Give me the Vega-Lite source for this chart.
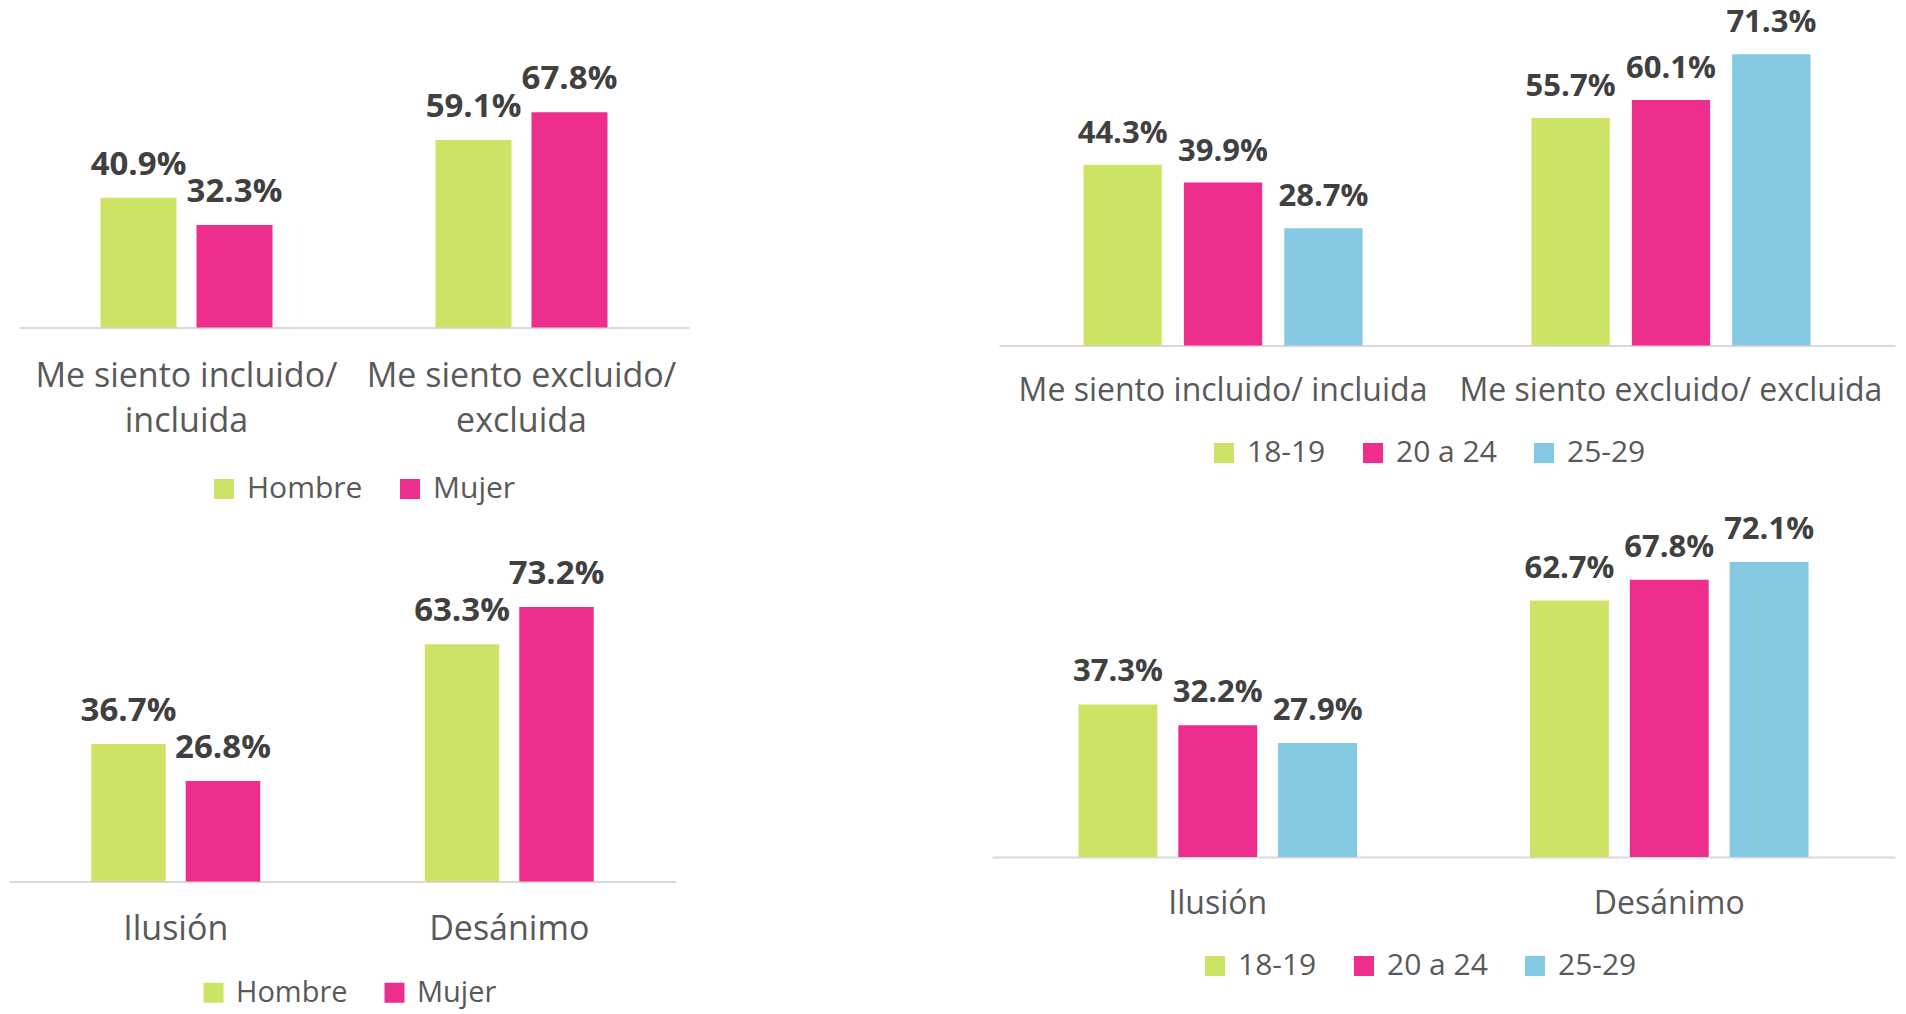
{
  "$schema": "https://vega.github.io/schema/vega-lite/v6.json",
  "padding": {"left": 9, "top": 5, "right": 5, "bottom": 8},
  "autosize": {"type": "pad"},
  "spacing": 1,
  "resolve": {"scale": {"color": "independent", "x": "independent", "y": "independent", "xOffset": "independent"}, "legend": {"color": "independent"}},
  "config": {
    "font": "Open Sans",
    "view": {"stroke": null},
    "axisX": {"title": null, "domainColor": "#d9d9d9", "domainWidth": 2, "ticks": false, "tickSize": 0, "labelColor": "#595959", "labelAngle": 0, "labelLimit": 1000, "labelOverlap": false, "grid": false},
    "legend": {"symbolType": "square", "symbolSize": 400, "symbolStrokeWidth": 0, "labelFontSize": 30, "labelColor": "#595959", "labelOffset": 8, "columnPadding": 32, "padding": 0, "direction": "horizontal", "orient": "none"},
    "bar": {"stroke": null}
  },
  "vconcat": [
    {
      "hconcat": [
        {
          "width": 680, "height": 322.5,
          "data": {"values": [
            {"categoria": "Me siento incluido/ incluida", "grupo": "Hombre", "valor": 0.409},
            {"categoria": "Me siento incluido/ incluida", "grupo": "Mujer", "valor": 0.323},
            {"categoria": "Me siento excluido/ excluida", "grupo": "Hombre", "valor": 0.591},
            {"categoria": "Me siento excluido/ excluida", "grupo": "Mujer", "valor": 0.678}
          ]},
          "encoding": {
            "x": {"field": "categoria", "type": "nominal", "sort": null,
                  "scale": {"range": [10, 680], "paddingInner": 0.4866, "paddingOuter": 0.2433},
                  "axis": {"labelFontSize": 34, "labelPadding": 31.5, "labelLineHeight": 45.7,
                           "labelExpr": "[slice(datum.label, 0, indexof(datum.label, '/ ') + 1), slice(datum.label, indexof(datum.label, '/ ') + 2)]"}},
            "xOffset": {"field": "grupo", "type": "nominal", "sort": null, "scale": {"paddingInner": 0.2083, "paddingOuter": 0}},
            "y": {"field": "valor", "type": "quantitative", "scale": {"domain": [0, 1.01607], "nice": false, "zero": true}, "axis": null}
          },
          "layer": [
            {"mark": {"type": "bar"},
             "encoding": {"color": {"field": "grupo", "type": "nominal", "sort": null,
               "scale": {"domain": ["Hombre", "Mujer"], "range": ["#CBE465", "#EE2E8C"]},
               "legend": {"title": null, "legendX": 200, "legendY": 469}}}},
            {"mark": {"type": "text", "align": "center", "baseline": "alphabetic", "dy": -23, "fontSize": 33, "fontWeight": "bold", "color": "#404040"},
             "encoding": {"text": {"field": "valor", "type": "quantitative", "format": ".1%"}}}
          ]
        },
        {
          "width": 896, "height": 340.6,
          "data": {"values": [
            {"categoria": "Me siento incluido/ incluida", "grupo": "18-19", "valor": 0.443},
            {"categoria": "Me siento incluido/ incluida", "grupo": "20 a 24", "valor": 0.399},
            {"categoria": "Me siento incluido/ incluida", "grupo": "25-29", "valor": 0.287},
            {"categoria": "Me siento excluido/ excluida", "grupo": "18-19", "valor": 0.557},
            {"categoria": "Me siento excluido/ excluida", "grupo": "20 a 24", "valor": 0.601},
            {"categoria": "Me siento excluido/ excluida", "grupo": "25-29", "valor": 0.713}
          ]},
          "encoding": {
            "x": {"field": "categoria", "type": "nominal", "sort": null,
                  "scale": {"paddingInner": 0.377, "paddingOuter": 0.1886},
                  "axis": {"labelFontSize": 32, "labelPadding": 29.4}},
            "xOffset": {"field": "grupo", "type": "nominal", "sort": null, "scale": {"paddingInner": 0.22, "paddingOuter": 0}},
            "y": {"field": "valor", "type": "quantitative", "scale": {"domain": [0, 0.83378], "nice": false, "zero": true}, "axis": null}
          },
          "layer": [
            {"mark": {"type": "bar"},
             "encoding": {"color": {"field": "grupo", "type": "nominal", "sort": null,
               "scale": {"domain": ["18-19", "20 a 24", "25-29"], "range": ["#CBE465", "#EE2E8C", "#84C9E1"]},
               "legend": {"title": null, "legendX": 210, "legendY": 433}}}},
            {"mark": {"type": "text", "align": "center", "baseline": "alphabetic", "dy": -22, "fontSize": 31, "fontWeight": "bold", "color": "#404040"},
             "encoding": {"text": {"field": "valor", "type": "quantitative", "format": ".1%"}}}
          ]
        }
      ],
      "spacing": 310,
      "bounds": "flush",
      "resolve": {"scale": {"color": "independent", "x": "independent", "y": "independent", "xOffset": "independent"}, "legend": {"color": "independent"}}
    },
    {
      "hconcat": [
        {
          "width": 667, "height": 376.5,
          "data": {"values": [
            {"categoria": "Ilusión", "grupo": "Hombre", "valor": 0.367},
            {"categoria": "Ilusión", "grupo": "Mujer", "valor": 0.268},
            {"categoria": "Desánimo", "grupo": "Hombre", "valor": 0.633},
            {"categoria": "Desánimo", "grupo": "Mujer", "valor": 0.732}
          ]},
          "encoding": {
            "x": {"field": "categoria", "type": "nominal", "sort": null,
                  "scale": {"paddingInner": 0.4933, "paddingOuter": 0.2466},
                  "axis": {"labelFontSize": 34, "labelPadding": 30.8}},
            "xOffset": {"field": "grupo", "type": "nominal", "sort": null, "scale": {"paddingInner": 0.2116, "paddingOuter": 0}},
            "y": {"field": "valor", "type": "quantitative", "scale": {"domain": [0, 1.004], "nice": false, "zero": true}, "axis": null}
          },
          "layer": [
            {"mark": {"type": "bar"},
             "encoding": {"color": {"field": "grupo", "type": "nominal", "sort": null,
               "scale": {"domain": ["Hombre", "Mujer"], "range": ["#CBE465", "#EE2E8C"]},
               "legend": {"title": null, "legendX": 190, "legendY": 473, "labelFontSize": 29}}}},
            {"mark": {"type": "text", "align": "center", "baseline": "alphabetic", "dy": -23, "fontSize": 33, "fontWeight": "bold", "color": "#404040"},
             "encoding": {"text": {"field": "valor", "type": "quantitative", "format": ".1%"}}}
          ]
        },
        {
          "width": 903, "height": 352,
          "data": {"values": [
            {"categoria": "Ilusión", "grupo": "18-19", "valor": 0.373},
            {"categoria": "Ilusión", "grupo": "20 a 24", "valor": 0.322},
            {"categoria": "Ilusión", "grupo": "25-29", "valor": 0.279},
            {"categoria": "Desánimo", "grupo": "18-19", "valor": 0.627},
            {"categoria": "Desánimo", "grupo": "20 a 24", "valor": 0.678},
            {"categoria": "Desánimo", "grupo": "25-29", "valor": 0.721}
          ]},
          "encoding": {
            "x": {"field": "categoria", "type": "nominal", "sort": null,
                  "scale": {"paddingInner": 0.383, "paddingOuter": 0.1915},
                  "axis": {"labelFontSize": 32, "labelPadding": 31}},
            "xOffset": {"field": "grupo", "type": "nominal", "sort": null, "scale": {"paddingInner": 0.21, "paddingOuter": 0}},
            "y": {"field": "valor", "type": "quantitative", "scale": {"domain": [0, 0.86064], "nice": false, "zero": true}, "axis": null}
          },
          "layer": [
            {"mark": {"type": "bar"},
             "encoding": {"color": {"field": "grupo", "type": "nominal", "sort": null,
               "scale": {"domain": ["18-19", "20 a 24", "25-29"], "range": ["#CBE465", "#EE2E8C", "#84C9E1"]},
               "legend": {"title": null, "legendX": 208, "legendY": 446}}}},
            {"mark": {"type": "text", "align": "center", "baseline": "alphabetic", "dy": -23, "fontSize": 31, "fontWeight": "bold", "color": "#404040"},
             "encoding": {"text": {"field": "valor", "type": "quantitative", "format": ".1%"}}}
          ]
        }
      ],
      "spacing": 316,
      "bounds": "flush",
      "resolve": {"scale": {"color": "independent", "x": "independent", "y": "independent", "xOffset": "independent"}, "legend": {"color": "independent"}}
    }
  ]
}
